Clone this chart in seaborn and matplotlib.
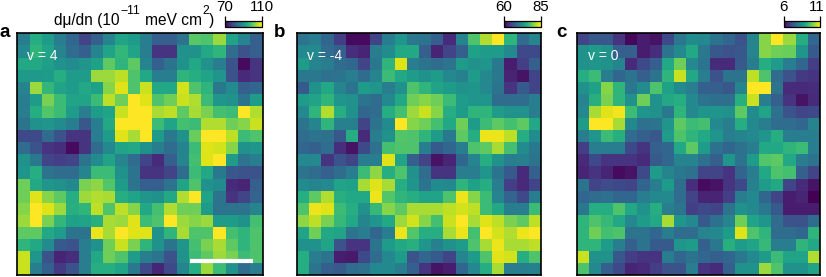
import matplotlib

matplotlib.use('Agg')
import matplotlib.pyplot as plt
import matplotlib.transforms as mtrans
import numpy as np
import seaborn as sns

# colour levels, 0 = bottom of the colour bar, 1 = top
levels_a = [
    [.42,.62,.55,.42,.33,.20,.30,.45,.58,.55,.42,.30,.30,.38,.74,.72,.85,.58,.45,.30],
    [.47,.65,.58,.45,.35,.30,.45,.58,.66,.58,.42,.15,.15,.50,.50,.60,.65,.35,.25,.30],
    [.60,.60,.56,.50,.48,.52,.57,.75,.65,.75,.45,.30,.38,.50,.60,.50,.42,.25,.03,.15],
    [.54,.54,.55,.62,.55,.55,.85,.85,.90,.72,.60,.42,.42,.65,.62,.58,.52,.25,.12,.15],
    [.45,.85,.66,.58,.55,.60,.57,.82,.95,.72,.92,.60,.60,.93,.72,.65,.40,.48,.30,.33],
    [.42,.55,.80,.68,.58,.58,.68,.90,.78,1.0,.95,.72,.78,.92,.88,.68,.52,.50,.38,.55],
    [.42,.62,.73,.68,.55,.42,.55,.58,.92,1.0,1.0,.87,.90,.75,.87,.80,.70,.68,1.0,.88],
    [.38,.50,.52,.48,.42,.27,.42,.60,1.0,1.0,1.0,.68,.58,.70,.68,.88,.88,.78,.82,.92],
    [.22,.22,.35,.25,.15,.15,.42,.55,.95,.87,1.0,.55,.40,.50,.77,1.0,1.0,.90,.68,.72],
    [.35,.25,.15,.13,.03,.15,.35,.47,.58,.60,.50,.42,.35,.45,.68,.95,.93,.82,.50,.52],
    [.50,.40,.20,.18,.20,.38,.48,.58,.45,.35,.20,.12,.30,.45,.70,.95,1.0,.55,.38,.42],
    [.52,.62,.38,.35,.35,.45,.68,.68,.50,.38,.15,.15,.20,.35,.68,.60,.40,.27,.25,.25],
    [.78,.60,.52,.50,.47,.80,.83,.73,.55,.38,.30,.30,.38,.58,.72,.50,.48,.12,.10,.30],
    [.78,.95,.82,.75,.62,.85,.88,.87,.62,.58,.52,.50,.60,.88,1.0,.58,.38,.15,.20,.32],
    [.82,1.0,.95,.85,.63,.65,.90,.72,.90,.82,.60,.70,.88,.78,.78,.55,.38,.38,.38,.45],
    [.85,1.0,.80,.66,.57,.58,.63,.87,.85,.95,.68,.72,1.0,.85,.82,.85,.55,.55,.50,.70],
    [.75,.75,.60,.55,.38,.38,.97,.87,1.0,.95,.95,.50,.65,.87,.72,.72,1.0,.70,.65,.72],
    [.65,.60,.48,.28,.25,.42,.50,.78,.92,.80,.65,.50,.38,.52,.70,.80,.87,.75,.65,.72],
    [.92,.52,.25,.10,.13,.42,.60,.78,.72,.55,.42,.38,.25,.50,.68,.75,.85,.80,.68,.72],
    [.92,.42,.30,.17,.25,.42,.62,.62,.58,.40,.22,.10,.22,.45,.62,.85,.68,.50,.35,.42],
]
levels_b = [
    [.38,.42,.33,.18,.03,.03,.20,.42,.52,.40,.38,.30,.12,.45,.72,.88,1.0,.65,.35,.45],
    [.47,.47,.35,.30,.13,.10,.42,.48,.60,.60,.30,.10,.20,.30,.57,.55,.55,.47,.22,.22],
    [.55,.45,.42,.35,.33,.20,.40,.65,.95,.42,.38,.35,.38,.55,.50,.52,.40,.08,.18,.30],
    [.40,.40,.37,.38,.42,.35,.45,.68,.60,.55,.50,.55,.47,.43,.55,.47,.40,.10,.05,.20],
    [.28,.50,.60,.45,.38,.55,.52,.42,.50,.72,.65,.58,.55,.50,.52,.47,.38,.15,.28,.20],
    [.55,.58,.65,.52,.50,.38,.35,.47,.60,.78,.82,.78,.68,.55,.52,.52,.35,.35,.35,.42],
    [.47,.65,.88,.62,.50,.33,.35,.62,.70,.85,.92,.82,.62,.55,.65,.65,.55,.50,.50,.42],
    [.38,.45,.65,.43,.43,.20,.38,.48,1.0,.82,.78,.70,.60,.78,.55,.68,.75,.70,.75,.60],
    [.35,.38,.37,.27,.62,.12,.42,.50,.73,.72,.65,.55,.40,.75,.62,.97,.97,.90,.62,.48],
    [.33,.30,.35,.13,.05,.22,.37,.70,.72,.72,.42,.28,.33,.42,.72,.75,.87,.70,.48,.40],
    [.47,.47,.15,.25,.20,.42,.42,.95,.58,.30,.20,.05,.10,.33,.45,.62,.50,.42,.43,.38],
    [.38,.35,.30,.35,.42,.68,.83,.62,.72,.50,.35,.15,.15,.42,.42,.52,.38,.28,.12,.30],
    [.48,.45,.47,.58,.57,.87,.95,.87,.62,.52,.38,.48,.47,.65,.57,.62,.42,.18,.12,.20],
    [.62,.75,.88,.63,.60,.60,.97,.73,.65,.62,.58,.58,.72,.97,.82,.68,.45,.32,.22,.42],
    [.72,.97,.95,.68,.62,.50,.67,.82,.75,.87,.87,.87,.90,.93,.90,.68,.60,.42,.42,.68],
    [.83,.90,.80,.67,.60,.45,.52,.60,.85,.93,.82,.70,.92,1.0,.87,.95,.90,.80,.75,.90],
    [.58,.78,.60,.58,.38,.42,.33,.42,.97,.73,.62,.62,.87,.97,.70,1.0,.93,.88,.97,1.0],
    [.50,.50,.58,.25,.15,.15,.38,.55,.60,.63,.52,.43,.50,.55,.72,.87,.97,.87,.87,.90],
    [.62,.42,.38,.08,.07,.22,.35,.47,.55,.25,.33,.28,.20,.45,.55,.72,.95,.93,.62,.72],
    [.62,.38,.30,.28,.35,.37,.47,.47,.42,.30,.15,.05,.08,.33,.47,.62,.87,.42,.42,.43],
]
levels_c = [
    [.20,.27,.27,.15,.02,.08,.05,.22,.40,.48,.47,.38,.33,.25,.45,.82,1.0,.85,.62,.33],
    [.50,.55,.50,.30,.30,.08,.13,.38,.47,.60,.40,.27,.25,.27,.45,.82,.78,.77,.52,.28],
    [.50,.52,.50,.45,.12,.22,.30,.60,.78,.47,.38,.12,.12,.28,.42,.62,.55,.42,.33,.18],
    [.62,.68,.42,.33,.38,.30,.38,.65,.92,.60,.42,.25,.38,.38,.90,.72,.35,.25,.17,.15],
    [.50,.57,.82,.65,.40,.48,.72,.57,.48,.42,.30,.30,.27,.45,1.0,1.0,.38,.12,.12,.13],
    [.45,.63,.80,.65,.50,.78,.50,.60,.62,.47,.38,.36,.36,.63,.92,.42,.30,.15,.05,.12],
    [.47,.87,.95,.98,.68,.52,.50,.40,.65,.47,.52,.52,.50,.75,.48,.58,.37,.25,.20,.22],
    [.55,1.0,1.0,.87,.47,.37,.38,.52,.75,.68,.70,.47,.42,.62,.47,.42,.35,.35,.33,.45],
    [.42,.52,.68,.63,.35,.30,.27,.55,.72,.65,.60,.52,.42,.45,.47,.52,.62,.42,.42,.42],
    [.18,.42,.42,.42,.22,.15,.30,.33,.60,.75,.55,.37,.33,.37,.42,.60,.60,.65,.68,.42],
    [.12,.22,.15,.15,.15,.12,.28,.33,.45,.45,.37,.30,.52,.38,.55,.73,.75,.60,.42,.38],
    [.10,.15,.10,.03,.05,.22,.55,.45,.40,.37,.20,.20,.15,.32,.42,.60,.72,.70,.30,.20],
    [.38,.20,.23,.22,.20,.32,.42,.55,.35,.13,.03,.05,.15,.22,.43,.55,.60,.20,.12,.05],
    [.33,.35,.37,.33,.33,.42,.47,.47,.35,.20,.10,.10,.18,.42,.47,.33,.20,.08,.10,.00],
    [.40,.62,.62,.72,.60,.50,.62,.42,.38,.18,.22,.20,.38,.50,.47,.40,.28,.08,.08,.08],
    [.65,.72,.67,.60,.47,.55,.60,.87,.52,.47,.28,.37,.45,.78,.58,.52,.35,.25,.25,.35],
    [.65,.78,.70,.72,.38,.38,.33,.42,.35,.35,.45,.47,.55,.95,.72,.65,.35,.35,.33,.65],
    [.65,.65,.55,.42,.30,.38,.28,.28,.52,.55,.30,.40,.63,.55,.58,.67,.42,.42,.65,.60],
    [.92,.50,.50,.27,.18,.15,.15,.42,.33,.38,.33,.30,.33,.40,.47,.55,.68,.58,.58,.88],
    [.72,.47,.30,.22,.10,.12,.18,.25,.25,.42,.15,.12,.30,.50,.50,.85,.72,.50,.50,.58],
]

panel_letters = ['a', 'b', 'c']
filling_labels = ['v = 4', 'v = -4', 'v = 0']
color_ranges = [(70, 110), (60, 85), (6, 11)]
all_levels = [levels_a, levels_b, levels_c]

plt.rcParams['font.family'] = ['Liberation Sans', 'DejaVu Sans']

W, H = 826, 277
fig = plt.figure(figsize=(W / 100, H / 100), dpi=100)

# pixel boxes: left, right of each map
map_x = [(17.3, 262.5), (297, 541), (576.5, 820)]
map_top, map_bottom = 33.3, 275.3
cbar_x = [(225, 261.5), (504, 540.5), (783.5, 820)]
letter_x = [0, 274, 556]
label_x = [26.7, 306.7, 587.7]


def px_text(x, y, s, size, **kw):
    fig.text(x / W, 1 - y / H, s, fontsize=size, va='baseline', ha='left', **kw)


for i in range(3):
    x0, x1 = map_x[i]
    ax = fig.add_axes([x0 / W, 1 - map_bottom / H, (x1 - x0) / W, (map_bottom - map_top) / H])
    vmin, vmax = color_ranges[i]
    data = vmin + np.array(all_levels[i]) * (vmax - vmin)
    sns.heatmap(data, ax=ax, cmap='viridis', vmin=vmin, vmax=vmax, cbar=False,
                xticklabels=False, yticklabels=False)
    for s in ax.spines.values():
        s.set_visible(True)
        s.set_linewidth(1.2)
        s.set_color('black')
    ax.tick_params(length=0)
    px_text(label_x[i], 60, filling_labels[i], 10, color='white', zorder=5)
    px_text(letter_x[i], 37, panel_letters[i], 13.5, fontweight='bold')

    c0, c1 = cbar_x[i]
    cax = fig.add_axes([c0 / W, 1 - 26.7 / H, (c1 - c0) / W, 6 / H])
    sm = plt.cm.ScalarMappable(cmap='viridis', norm=plt.Normalize(vmin, vmax))
    cb = fig.colorbar(sm, cax=cax, orientation='horizontal')
    cb.set_ticks([vmin, vmax])
    cb.ax.xaxis.set_ticks_position('top')
    cb.ax.tick_params(length=3.6, width=0.9, labelsize=10.8, pad=1.5)
    cb.outline.set_linewidth(0.9)

    if i == 0:
        # scale bar
        ax.plot([14.1, 19.2], [18.85, 18.85], color='white', lw=3, solid_capstyle='butt')
    if i == 2:
        # keep the last label inside the figure edge
        lab = cb.ax.get_xticklabels()[1]
        lab.set_transform(lab.get_transform() + mtrans.ScaledTranslation(-3 / 100, 0, fig.dpi_scale_trans))

# colour bar title, pieces placed one by one for the wide superscript gaps
px_text(54, 25, 'dμ/dn (10', 11.2)
px_text(120.5, 13.5, '−11', 8.8)
px_text(145, 25, 'meV cm', 11.2)
px_text(202, 13.5, '2', 8.8)
px_text(209, 25, ')', 11.2)

plt.savefig('out.png', dpi=100)
plt.close()
